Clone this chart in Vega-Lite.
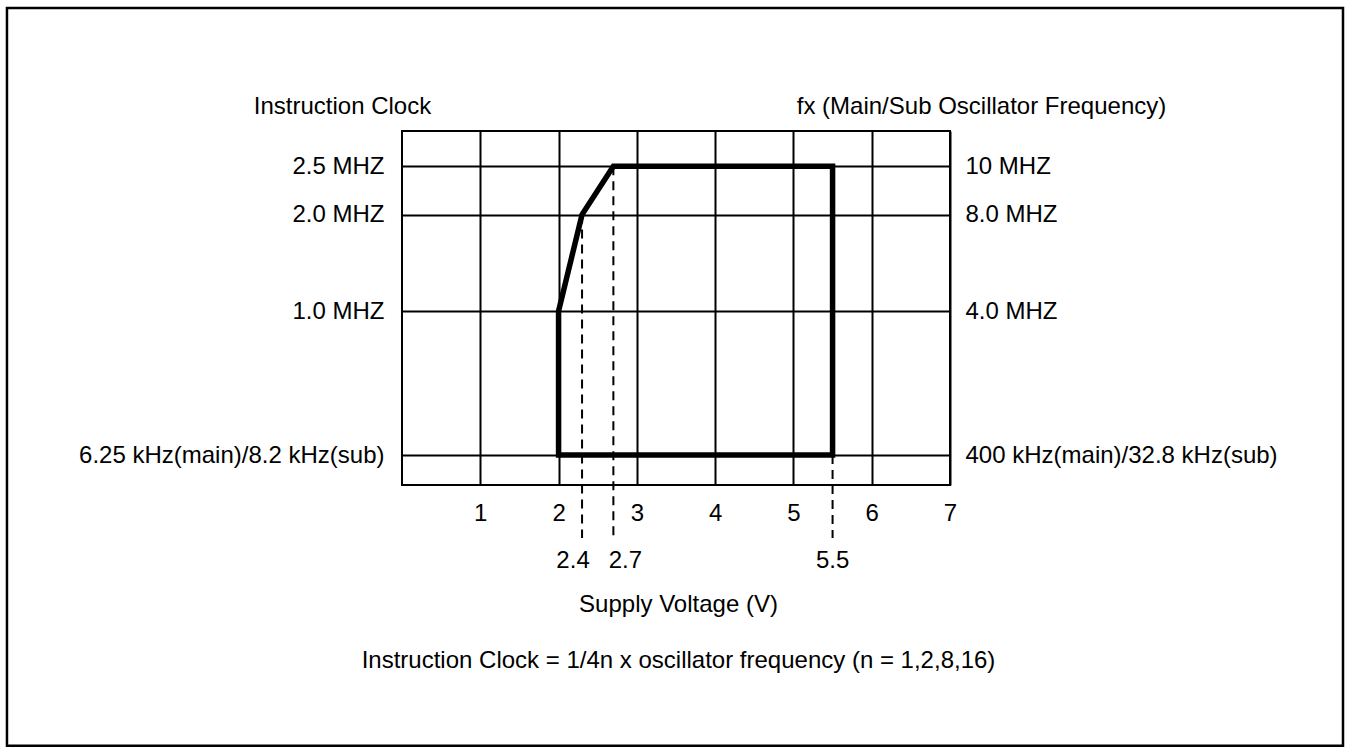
{
  "$schema": "https://vega.github.io/schema/vega-lite/v6.json",
  "width": 548,
  "height": 354,
  "autosize": {"type": "none"},
  "padding": {"left": 402, "top": 131, "right": 396, "bottom": 268},
  "background": "white",
  "config": {
    "font": "Liberation Sans",
    "view": {"stroke": "black", "strokeWidth": 2},
    "axis": {
      "labelFont": "Liberation Sans",
      "titleFont": "Liberation Sans",
      "labelFontSize": 24,
      "titleFontSize": 24,
      "labelColor": "black",
      "titleColor": "black",
      "titleFontWeight": "normal",
      "ticks": false,
      "domain": false,
      "gridColor": "black",
      "gridOpacity": 1,
      "gridWidth": 2,
      "labelFlush": false,
      "labelOverlap": false,
      "labelBound": false,
      "labelLimit": 0
    }
  },
  "datasets": {
    "boundary": [
      {"order": 1, "voltage": 2.0, "clock_mhz": -0.49},
      {"order": 2, "voltage": 2.0, "clock_mhz": 1.0},
      {"order": 3, "voltage": 2.3, "clock_mhz": 2.0},
      {"order": 4, "voltage": 2.7, "clock_mhz": 2.5},
      {"order": 5, "voltage": 5.5, "clock_mhz": 2.5},
      {"order": 6, "voltage": 5.5, "clock_mhz": -0.49},
      {"order": 7, "voltage": 2.0, "clock_mhz": -0.49}
    ],
    "markers": [
      {"voltage": 2.3, "clock_mhz": 2.0, "label": "2.4"},
      {"voltage": 2.7, "clock_mhz": 2.5, "label": "2.7"},
      {"voltage": 5.5, "clock_mhz": -0.49, "label": "5.5"}
    ]
  },
  "layer": [
    {
      "data": {"name": "boundary"},
      "mark": {"type": "line", "color": "black", "strokeWidth": 5.5, "strokeJoin": "miter", "strokeCap": "square"},
      "encoding": {
        "x": {
          "field": "voltage", "type": "quantitative",
          "scale": {"domain": [0, 7], "nice": false, "zero": false},
          "axis": {
            "values": [1, 2, 3, 4, 5, 6, 7],
            "format": "d",
            "grid": true,
            "labelPadding": 16,
            "title": ["Supply Voltage (V)", "Instruction Clock = 1/4n x oscillator frequency (n = 1,2,8,16)"],
            "titleLineHeight": 56,
            "titleAlign": "center",
            "titleAnchor": "start",
            "titleX": 276,
            "titleY": 126,
            "titleBaseline": "alphabetic"
          }
        },
        "y": {
          "field": "clock_mhz", "type": "quantitative",
          "scale": {"domain": [-0.8, 2.865], "nice": false, "zero": false},
          "axis": {
            "orient": "left",
            "values": [-0.49, 1, 2, 2.5],
            "grid": true,
            "labelPadding": 18,
            "labelExpr": "datum.value == 2.5 ? '2.5 MHZ' : datum.value == 2 ? '2.0 MHZ' : datum.value == 1 ? '1.0 MHZ' : '6.25 kHz(main)/8.2 kHz(sub)'",
            "title": "Instruction Clock",
            "titleAngle": 0,
            "titleAlign": "center",
            "titleBaseline": "alphabetic",
            "titleX": -60,
            "titleY": -18
          }
        },
        "order": {"field": "order", "type": "quantitative"}
      }
    },
    {
      "data": {"name": "markers"},
      "mark": {"type": "rule", "color": "black", "strokeWidth": 2, "strokeDash": [9, 6]},
      "encoding": {
        "x": {"field": "voltage", "type": "quantitative"},
        "y": {
          "field": "clock_mhz", "type": "quantitative",
          "axis": {
            "orient": "right",
            "values": [-0.49, 1, 2, 2.5],
            "grid": false,
            "labelPadding": 15,
            "labelExpr": "datum.value == 2.5 ? '10 MHZ' : datum.value == 2 ? '8.0 MHZ' : datum.value == 1 ? '4.0 MHZ' : '400 kHz(main)/32.8 kHz(sub)'",
            "title": "fx (Main/Sub Oscillator Frequency)",
            "titleAngle": 0,
            "titleAlign": "center",
            "titleBaseline": "alphabetic",
            "titleX": 31,
            "titleY": -18
          }
        },
        "y2": {"datum": -1.35}
      }
    },
    {
      "data": {"name": "markers"},
      "transform": [{"filter": "datum.label == '2.4'"}],
      "mark": {"type": "text", "fontSize": 24, "font": "Liberation Sans", "color": "black", "baseline": "alphabetic", "dx": -9},
      "encoding": {
        "x": {"field": "voltage", "type": "quantitative"},
        "y": {"datum": -1.66, "type": "quantitative", "axis": null},
        "text": {"field": "label"}
      }
    },
    {
      "data": {"name": "markers"},
      "transform": [{"filter": "datum.label == '2.7'"}],
      "mark": {"type": "text", "fontSize": 24, "font": "Liberation Sans", "color": "black", "baseline": "alphabetic", "dx": 12},
      "encoding": {
        "x": {"field": "voltage", "type": "quantitative"},
        "y": {"datum": -1.66, "type": "quantitative", "axis": null},
        "text": {"field": "label"}
      }
    },
    {
      "data": {"name": "markers"},
      "transform": [{"filter": "datum.label == '5.5'"}],
      "mark": {"type": "text", "fontSize": 24, "font": "Liberation Sans", "color": "black", "baseline": "alphabetic"},
      "encoding": {
        "x": {"field": "voltage", "type": "quantitative"},
        "y": {"datum": -1.66, "type": "quantitative", "axis": null},
        "text": {"field": "label"}
      }
    },
    {
      "data": {"values": [{}]},
      "mark": {"type": "rect", "fillOpacity": 0, "stroke": "black", "strokeWidth": 2.5, "clip": false},
      "encoding": {
        "x": {"datum": -5.046, "type": "quantitative"},
        "x2": {"datum": 12.02},
        "y": {"datum": 4.138, "type": "quantitative", "axis": null},
        "y2": {"datum": -3.50}
      }
    }
  ],
  "resolve": {"axis": {"y": "independent"}}
}
